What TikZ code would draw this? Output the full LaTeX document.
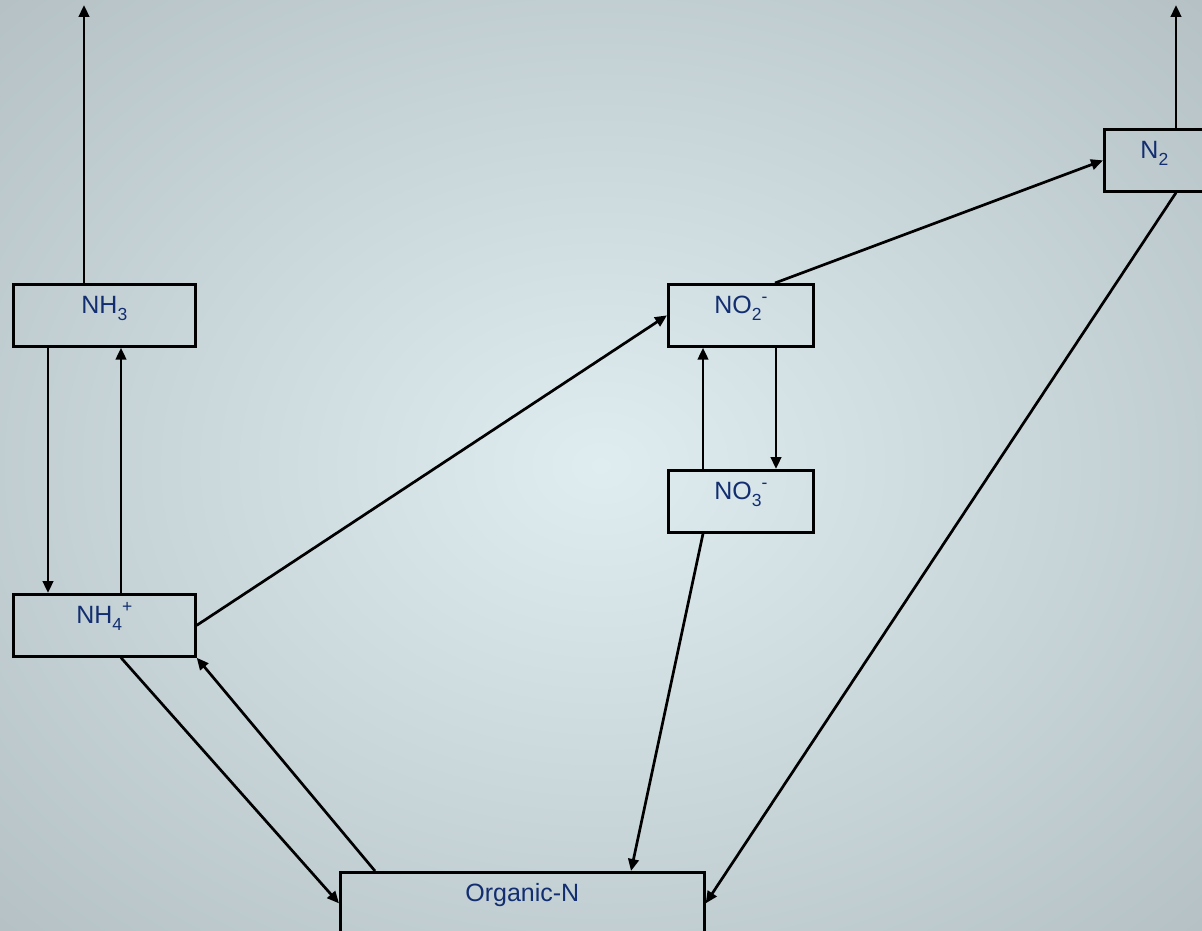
\documentclass[tikz,border=0pt]{standalone}
\usepackage{fontspec}
\setmainfont{Liberation Sans}
\usetikzlibrary{arrows.meta,calc}
\definecolor{bgin}{RGB}{223,237,240}
\definecolor{bgout}{RGB}{180,192,196}
\definecolor{txt}{RGB}{18,46,112}
\newcommand{\sbs}[1]{\raisebox{-0.28em}{\fontsize{17.5}{20}\selectfont #1}}
\newcommand{\sps}[1]{\raisebox{0.42em}{\fontsize{17.5}{20}\selectfont #1}}
\begin{document}
\begin{tikzpicture}[x=1pt,y=-1pt,
  box/.style={draw=black, line width=2.7pt, inner sep=0pt, text height=29pt, text depth=33pt,
    font=\fontsize{25}{29}\selectfont, text=txt, anchor=north west},
  conn/.style={line width=2.7pt, -{Triangle[length=12pt,width=10.5pt]}}]
\useasboundingbox (0,0) rectangle (1202,931);
\clip (0,0) rectangle (1202,931);
\shade[inner color=bgin, outer color=bgout] (-260,-210) rectangle (1462,1141);
\node[box, minimum width=182pt] (nh3) at (12,283) {NH\sbs{3}};
\node[box, minimum width=182pt] (nh4) at (12,593) {NH\sbs{4}\sps{+}};
\node[box, minimum width=145pt] (no2) at (667,283) {NO\sbs{2}\sps{-}};
\node[box, minimum width=145pt] (no3) at (667,469) {NO\sbs{3}\sps{-}};
\node[box, minimum width=100pt] (n2) at (1103,128) {N\sbs{2}};
\node[box, minimum width=364pt] (orgn) at (339,871) {Organic-N};
\coordinate (top1) at (84,5);
\coordinate (top2) at (1176,5);
\draw[conn] ([xshift=72pt]nh3.north west) -- (top1);
\draw[conn] ([xshift=73pt]n2.north west) -- (top2);
\draw[conn] ([xshift=36pt]nh3.south west) -- ([xshift=36pt]nh4.north west);
\draw[conn] ([xshift=109pt]nh4.north west) -- ([xshift=109pt]nh3.south west);
\draw[conn] (nh4.east) -- (no2.west);
\draw[conn] ([xshift=108pt]no2.north west) -- (n2.west);
\draw[conn] ([xshift=36pt]no3.north west) -- ([xshift=36pt]no2.south west);
\draw[conn] ([xshift=109pt]no2.south west) -- ([xshift=109pt]no3.north west);
\draw[conn] ([xshift=36pt]no3.south west) -- ([xshift=292pt]orgn.north west);
\draw[conn] ([xshift=73pt]n2.south west) -- (orgn.east);
\draw[conn] ([xshift=109pt]nh4.south west) -- (orgn.west);
\draw[conn] ([xshift=36pt]orgn.north west) -- (nh4.south east);
\end{tikzpicture}
\end{document}
